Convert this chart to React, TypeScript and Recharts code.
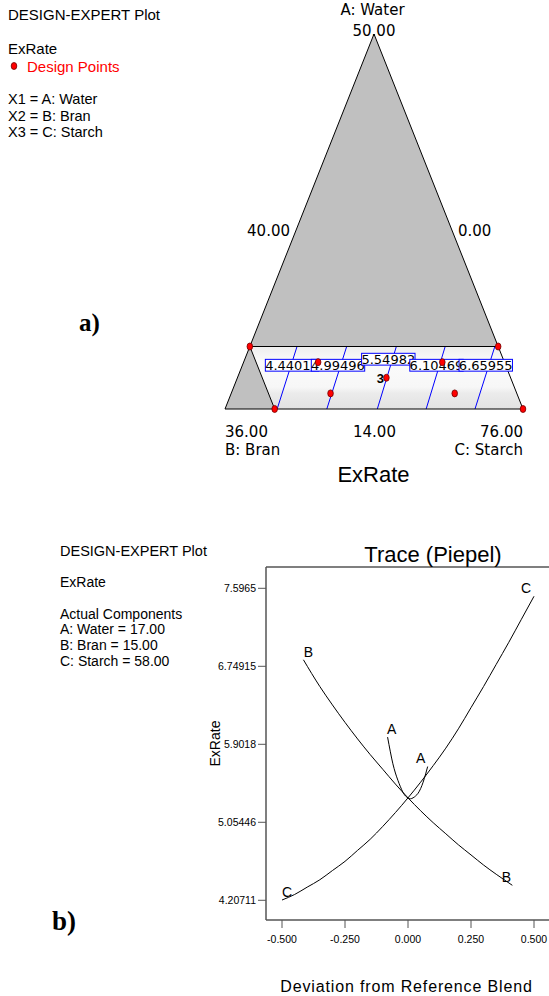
import React from 'react';
import {
    ComposedChart,
    LineChart,
    Line,
    Area,
    Scatter,
    XAxis,
    YAxis,
    ReferenceLine,
} from 'recharts';

const FONT = '"Liberation Sans", Arial, sans-serif';
const DE_FONT = '"DejaVu Sans", Verdana, sans-serif';

// mixture bounds (actual units, total = 90)
const WATER_LOW = 14;
const STARCH_LOW = 40;
const SPAN = 36;
const TOTAL = 90;

// constrained region
const WATER_MAX = 20;
const BRAN_MAX = 30;

// design points
const pointWater = [20, 20, 14, 14, 18.5, 18.5, 17, 15.5, 15.5];
const pointBran = [30, 0, 30, 0, 22.5, 7.5, 15, 22.5, 7.5];
const pointReps = [1, 1, 1, 1, 1, 1, 3, 1, 1];

// ExRate contours (starch level where each contour hits water = 14 and water = 20)
const contourLevels = ['4.44011', '4.99496', '5.54982', '6.10469', '6.65955'];
const contourStarchLow = [46.3, 52.3, 58.4, 64.3, 70.2];
const contourStarchHigh = [45.7, 51.7, 57.7, 63.6, 69.6];
const contourLabelWater = [18.2, 18.2, 18.78, 18.2, 18.2];
const contourLabelStarch = [46.0, 51.55, 57.34, 63.45, 69.4];

// trace (Piepel) curves
const traceAx = [-0.081, -0.07, -0.06, -0.05, -0.04, -0.03, -0.02, -0.01, 0, 0.01, 0.02, 0.03, 0.04, 0.05, 0.06, 0.07, 0.078];
const traceAy = [5.98, 5.82, 5.69, 5.59, 5.51, 5.44, 5.38, 5.34, 5.32, 5.31, 5.32, 5.34, 5.37, 5.42, 5.49, 5.58, 5.66];
const traceBx = [-0.415, -0.35, -0.3, -0.25, -0.2, -0.15, -0.1, -0.05, 0, 0.05, 0.1, 0.15, 0.2, 0.25, 0.3, 0.35, 0.414];
const traceBy = [6.82, 6.53, 6.33, 6.14, 5.96, 5.79, 5.63, 5.47, 5.32, 5.18, 5.05, 4.93, 4.81, 4.70, 4.59, 4.49, 4.37];
const traceCx = [-0.5, -0.45, -0.4, -0.35, -0.3, -0.25, -0.2, -0.15, -0.1, -0.05, 0, 0.05, 0.1, 0.15, 0.2, 0.25, 0.3, 0.35, 0.4, 0.45, 0.5];
const traceCy = [4.21, 4.27, 4.35, 4.43, 4.53, 4.63, 4.75, 4.87, 5.01, 5.16, 5.32, 5.49, 5.67, 5.86, 6.07, 6.30, 6.53, 6.77, 7.01, 7.26, 7.51];

const xTicks = [-0.5, -0.25, 0, 0.25, 0.5];
const yTicks = [4.20711, 5.05446, 5.9018, 6.74915, 7.5965];

// water / starch -> position in the drawn simplex (0..1 base, 0..1 height)
const toXY = (water: number, starch: number) => {
    const a = (water - WATER_LOW) / SPAN;
    const c = (starch - STARCH_LOW) / SPAN;
    return { x: c + a / 2, y: a };
};

const vB = toXY(WATER_LOW, STARCH_LOW);
const vA = toXY(WATER_LOW + SPAN, STARCH_LOW);
const vC = toXY(WATER_LOW, STARCH_LOW + SPAN);
const ul = toXY(WATER_MAX, TOTAL - WATER_MAX - BRAN_MAX);
const ur = toXY(WATER_MAX, TOTAL - WATER_MAX);
const lr = toXY(WATER_LOW, TOTAL - WATER_LOW);
const ll = toXY(WATER_LOW, TOTAL - WATER_LOW - BRAN_MAX);

const outerTri = [vB, vA, vC];
const regionTop = [ul, ur, lr];
const cornerTri = [vB, ul, ll];
const edges = [[vB, vA], [vA, vC], [vB, vC], [ul, ur], [ul, ll]];

const contourSegs = contourLevels.map((_, i) => [
    toXY(WATER_LOW, contourStarchLow[i]),
    toXY(WATER_MAX, contourStarchHigh[i]),
]);
const labelData = contourLevels.map((level, i) => ({
    ...toXY(contourLabelWater[i], contourLabelStarch[i]),
    level,
}));
const pointData = pointWater.map((w, i) => ({
    ...toXY(w, TOTAL - w - pointBran[i]),
    reps: pointReps[i],
}));

const zip = (xs: number[], ys: number[]) => xs.map((x, i) => ({ x, y: ys[i] }));
const traceA = zip(traceAx, traceAy);
const traceB = zip(traceBx, traceBy);
const traceC = zip(traceCx, traceCy);

const ContourLabel = (props: any) => {
    const { cx, cy, payload } = props;
    return (
        <g>
            <rect x={cx - 26.7} y={cy - 5.9} width={53.4} height={11.8} fill="#fff" stroke="#0000ff" strokeWidth={1} />
            <text x={cx} y={cy + 4.6} textAnchor="middle" fontSize={13} fontFamily={DE_FONT} fill="#000">
                {payload.level}
            </text>
        </g>
    );
};

const DesignPoint = (props: any) => {
    const { cx, cy, payload } = props;
    return (
        <g>
            <ellipse cx={cx} cy={cy} rx={2.8} ry={3.5} fill="#ff0000" stroke="#700000" strokeWidth={0.8} />
            {payload.reps > 1 && (
                <text x={cx - 2.5} y={cy + 5} textAnchor="end" fontSize={13} fontWeight="bold" fontFamily={FONT} fill="#000">
                    {payload.reps}
                </text>
            )}
        </g>
    );
};

const curveLabel = (name: string, n: number, first: number[], last: number[]) => (p: any) => {
    const { x, y, index } = p;
    const off = index === 0 ? first : index === n - 1 ? last : null;
    if (!off) return null;
    return (
        <text x={x + off[0]} y={y + off[1] + 5} textAnchor="middle" fontSize={14} fontFamily={FONT} fill="#000">
            {name}
        </text>
    );
};

const T = (props: any) => <text fontFamily={FONT} fill="#000" {...props} />;

export default function App() {
    return (
        <div style={{ position: 'absolute', left: 0, top: 0, width: 549, height: 996, background: '#fff' }}>
            {/* a) constrained mixture contour plot */}
            <div style={{ position: 'absolute', left: 0, top: 0 }}>
                <ComposedChart width={549} height={450} margin={{ top: 34, right: 26, bottom: 41, left: 225 }}>
                    <defs>
                        <linearGradient id="shade" x1="0" y1="0" x2="0" y2="1">
                            <stop offset="0%" stopColor="#eeeeee" />
                            <stop offset="25%" stopColor="#fbfbfb" />
                            <stop offset="65%" stopColor="#f7f7f7" />
                            <stop offset="75%" stopColor="#ebebeb" />
                            <stop offset="100%" stopColor="#e2e2e2" />
                        </linearGradient>
                    </defs>
                    <XAxis type="number" dataKey="x" domain={[0, 1]} hide />
                    <YAxis type="number" dataKey="y" domain={[0, 1]} hide />
                    <Area data={outerTri} dataKey="y" type="linear" baseValue={0} fill="#c0c0c0" fillOpacity={1} stroke="none" isAnimationActive={false} />
                    <Area data={regionTop} dataKey="y" type="linear" baseValue={0} fill="url(#shade)" fillOpacity={1} stroke="none" isAnimationActive={false} />
                    <Area data={cornerTri} dataKey="y" type="linear" baseValue={0} fill="#c0c0c0" fillOpacity={1} stroke="none" isAnimationActive={false} />
                    {contourSegs.map((s, i) => (
                        <ReferenceLine key={`c${i}`} segment={s} stroke="#0000ff" strokeWidth={1} ifOverflow="visible" />
                    ))}
                    {edges.map((s, i) => (
                        <ReferenceLine key={`e${i}`} segment={s} stroke="#000" strokeWidth={1} ifOverflow="visible" />
                    ))}
                    <Scatter data={labelData} shape={ContourLabel} isAnimationActive={false} />
                    <Scatter data={pointData} shape={DesignPoint} isAnimationActive={false} />
                </ComposedChart>
            </div>

            {/* b) trace plot */}
            <div style={{ position: 'absolute', left: 0, top: 540 }}>
                <LineChart width={549} height={456} margin={{ top: 27, right: 0, bottom: 46, left: 206 }}>
                    <XAxis
                        type="number"
                        dataKey="x"
                        domain={[-0.5635, 0.5595]}
                        ticks={xTicks}
                        tickFormatter={(v: number) => v.toFixed(3)}
                        height={30}
                        tickSize={8}
                        tickMargin={8}
                        axisLine={{ stroke: '#555', strokeWidth: 1.5 }}
                        tickLine={{ stroke: '#555' }}
                        tick={{ fill: '#000', fontSize: 10.5, fontFamily: FONT }}
                        allowDataOverflow
                    />
                    <YAxis
                        type="number"
                        domain={[3.993, 7.828]}
                        ticks={yTicks}
                        tickFormatter={(v: number) => String(v)}
                        width={60}
                        tickSize={8}
                        tickMargin={2}
                        axisLine={{ stroke: '#555', strokeWidth: 1.5 }}
                        tickLine={{ stroke: '#555' }}
                        tick={{ fill: '#000', fontSize: 10.5, fontFamily: FONT }}
                        allowDataOverflow
                    />
                    <ReferenceLine y={7.828} stroke="#555" strokeWidth={1.5} />
                    <Line data={traceA} dataKey="y" type="monotone" stroke="#000" strokeWidth={1} dot={false} isAnimationActive={false}
                        label={curveLabel('A', traceA.length, [4, -8], [-7, -9])} />
                    <Line data={traceB} dataKey="y" type="monotone" stroke="#000" strokeWidth={1} dot={false} isAnimationActive={false}
                        label={curveLabel('B', traceB.length, [5, -8], [-6, -8])} />
                    <Line data={traceC} dataKey="y" type="monotone" stroke="#000" strokeWidth={1} dot={false} isAnimationActive={false}
                        label={curveLabel('C', traceC.length, [5, -8], [-8, -8])} />
                </LineChart>
            </div>

            {/* text */}
            <svg width={549} height={996} style={{ position: 'absolute', left: 0, top: 0, pointerEvents: 'none' }}>
                <T x={8} y={20} fontSize={15}>DESIGN-EXPERT Plot</T>
                <T x={8} y={54} fontSize={15}>ExRate</T>
                <ellipse cx={14} cy={66} rx={2.8} ry={3.5} fill="#ff0000" stroke="#700000" strokeWidth={0.8} />
                <T x={27} y={72} fontSize={15} fill="#ff0000">Design Points</T>
                <T x={8} y={104} fontSize={14.5}>X1 = A: Water</T>
                <T x={8} y={121} fontSize={14.5}>X2 = B: Bran</T>
                <T x={8} y={137} fontSize={14.5}>X3 = C: Starch</T>
                <T x={79} y={331} fontSize={25} fontWeight="bold" fontFamily='"Liberation Serif", "Times New Roman", serif'>a)</T>

                <T x={372.5} y={15} fontSize={15} fontFamily={DE_FONT} textAnchor="middle">A: Water</T>
                <T x={374} y={36} fontSize={15} fontFamily={DE_FONT} textAnchor="middle">50.00</T>
                <T x={290} y={236} fontSize={15} fontFamily={DE_FONT} textAnchor="end">40.00</T>
                <T x={458} y={236} fontSize={15} fontFamily={DE_FONT}>0.00</T>
                <T x={225} y={437} fontSize={15} fontFamily={DE_FONT}>36.00</T>
                <T x={225} y={455} fontSize={15} fontFamily={DE_FONT}>B: Bran</T>
                <T x={374.5} y={437} fontSize={15} fontFamily={DE_FONT} textAnchor="middle">14.00</T>
                <T x={523} y={437} fontSize={15} fontFamily={DE_FONT} textAnchor="end">76.00</T>
                <T x={523} y={455} fontSize={15} fontFamily={DE_FONT} textAnchor="end">C: Starch</T>
                <T x={373.5} y={482} fontSize={22} textAnchor="middle">ExRate</T>

                <T x={60} y={556} fontSize={14.5}>DESIGN-EXPERT Plot</T>
                <T x={60} y={587} fontSize={14}>ExRate</T>
                <T x={60} y={619} fontSize={14}>Actual Components</T>
                <T x={60} y={634} fontSize={14}>A: Water = 17.00</T>
                <T x={60} y={650} fontSize={14}>B: Bran = 15.00</T>
                <T x={60} y={666} fontSize={14}>C: Starch = 58.00</T>
                <T x={52} y={930} fontSize={27} fontWeight="bold" fontFamily='"Liberation Serif", "Times New Roman", serif'>b)</T>

                <T x={433} y={562} fontSize={22} textAnchor="middle">Trace (Piepel)</T>
                <T x={220} y={743.5} fontSize={14} textAnchor="middle" transform="rotate(-90 220 743.5)">ExRate</T>
                <T x={406.5} y={992} fontSize={16} textAnchor="middle" letterSpacing={0.85}>Deviation from Reference Blend</T>
            </svg>
        </div>
    );
}
